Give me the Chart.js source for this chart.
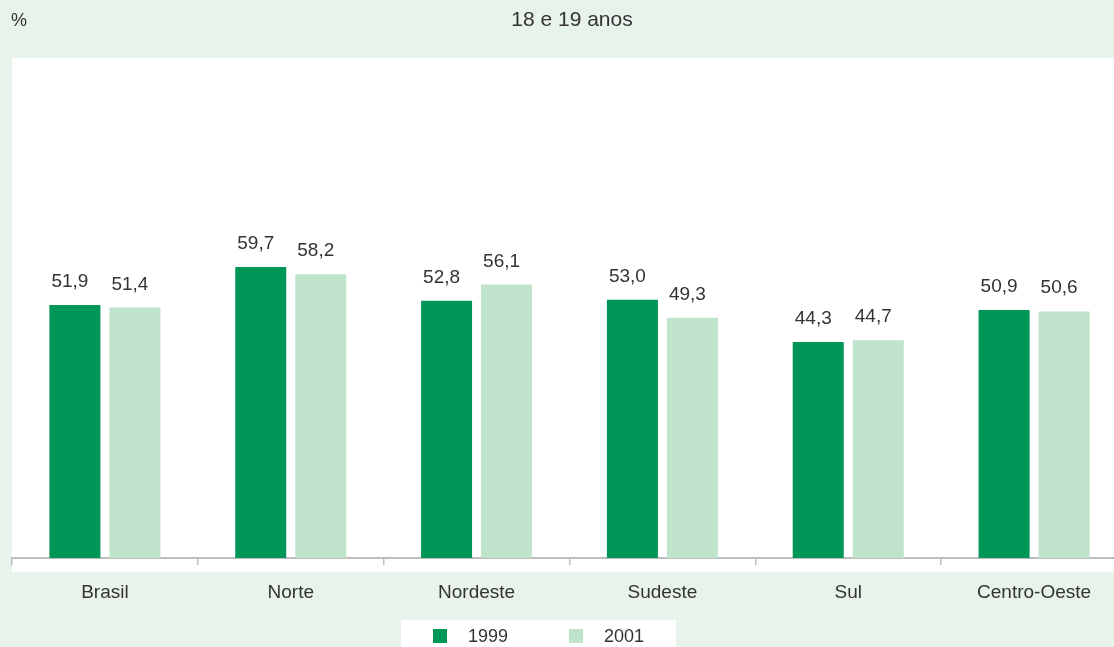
<!DOCTYPE html>
<html>
<head>
<meta charset="utf-8">
<script src="https://cdn.jsdelivr.net/npm/chart.js@4"></script>
<style>
  html, body { margin: 0; padding: 0; background: #e8f3eb; overflow: hidden; }
  #wrap { width: 1114px; height: 647px; overflow: hidden; }
  canvas { display: block; }
</style>
</head>
<body>
<div id="wrap"><canvas id="chart" width="1128" height="647"></canvas></div>
<script>
const REGIONS = ['Brasil', 'Norte', 'Nordeste', 'Sudeste', 'Sul', 'Centro-Oeste']
const VALUES_1999 = [51.9, 59.7, 52.8, 53.0, 44.3, 50.9]
const VALUES_2001 = [51.4, 58.2, 56.1, 49.3, 44.7, 50.6]
const YEARS = ['1999', '2001']
const TITLE = '18 e 19 anos'
const UNIT = '%'

const COLORS = {
  dark: '#009658',
  light: '#bfe3cb',
  bg: '#e8f3eb',
  text: '#333333',
  axis: '#bdbdbd',
}
const FONT = '"Liberation Sans", Arial, sans-serif'

function fmt(v) {
  return v.toFixed(1).replace('.', ',')
}

// background panels, title and the unit label
const backdrop = {
  id: 'backdrop',
  beforeDraw(chart) {
    const ctx = chart.ctx
    ctx.save()
    ctx.fillStyle = COLORS.bg
    ctx.fillRect(0, 0, chart.width, chart.height)
    ctx.fillStyle = '#ffffff'
    ctx.fillRect(12, 58, chart.width - 12, 572 - 58)
    ctx.fillStyle = COLORS.text
    ctx.textBaseline = 'middle'
    ctx.textAlign = 'left'
    ctx.font = '18px ' + FONT
    ctx.fillText(UNIT, 11, 21)
    ctx.textAlign = 'center'
    ctx.font = '21px ' + FONT
    ctx.fillText(TITLE, 572, 20)
    ctx.restore()
  },
}

// values over the bars
const valueLabels = {
  id: 'valueLabels',
  afterDatasetsDraw(chart) {
    const ctx = chart.ctx
    ctx.save()
    ctx.fillStyle = COLORS.text
    ctx.font = '19px ' + FONT
    ctx.textAlign = 'center'
    ctx.textBaseline = 'alphabetic'
    chart.data.datasets.forEach((ds, i) => {
      chart.getDatasetMeta(i).data.forEach((bar, j) => {
        ctx.fillText(fmt(ds.data[j]), bar.x - 5, bar.y - 18)
      })
    })
    ctx.restore()
  },
}

// legend in a white box at the bottom
const boxLegend = {
  id: 'boxLegend',
  afterDraw(chart) {
    const ctx = chart.ctx
    ctx.save()
    ctx.fillStyle = '#ffffff'
    ctx.fillRect(401, 620, 275, 27)
    ctx.font = '18px ' + FONT
    ctx.textBaseline = 'middle'
    ctx.textAlign = 'left'
    const xs = [433, 569]
    chart.data.datasets.forEach((ds, i) => {
      ctx.fillStyle = ds.backgroundColor
      ctx.fillRect(xs[i], 629, 14, 14)
      ctx.fillStyle = COLORS.text
      ctx.fillText(ds.label, xs[i] + 35, 637)
    })
    ctx.restore()
  },
}

new Chart(document.getElementById('chart'), {
  type: 'bar',
  data: {
    labels: REGIONS,
    datasets: [
      { label: YEARS[0], data: VALUES_1999, backgroundColor: COLORS.dark },
      { label: YEARS[1], data: VALUES_2001, backgroundColor: COLORS.light },
    ],
  },
  options: {
    responsive: false,
    animation: false,
    categoryPercentage: 0.646,
    barPercentage: 0.85,
    layout: { padding: { top: 58, left: 12, right: 1, bottom: 0 } },
    plugins: { legend: { display: false }, tooltip: { enabled: false } },
    scales: {
      x: {
        afterFit: s => { s.height = 89 },
        grid: {
          display: true,
          drawOnChartArea: false,
          drawTicks: true,
          tickLength: 7,
          color: COLORS.axis,
          lineWidth: 1.5,
        },
        border: { display: true, color: COLORS.axis, width: 2 },
        ticks: {
          color: COLORS.text,
          padding: 16,
          font: { size: 19, family: FONT },
        },
      },
      y: {
        display: false,
        min: 0,
        max: 102.6,
      },
    },
  },
  plugins: [backdrop, valueLabels, boxLegend],
})
</script>
</body>
</html>
